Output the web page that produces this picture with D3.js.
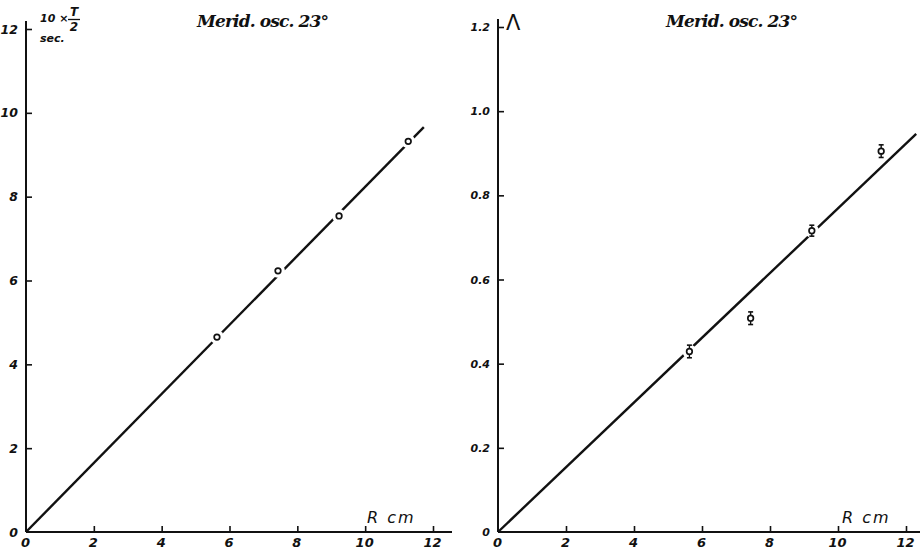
<!DOCTYPE html>
<html>
<head>
<meta charset="utf-8">
<script src="https://cdn.jsdelivr.net/npm/d3@7"></script>
<style>
  body { margin: 0; background: #fff; }
  svg { display: block; }
</style>
</head>
<body>
<svg id="chart" width="922" height="553"></svg>
<script>
// values
const radiusCm = [5.63, 7.43, 9.23, 11.27];
const halfPeriod = [4.65, 6.23, 7.54, 9.32];      // 10 x T/2 sec.
const lambdaValues = [0.429, 0.508, 0.716, 0.905];
const lambdaError = [0.015, 0.015, 0.013, 0.015];
const fitLeft = [[0, 0], [11.73, 9.66]];
const fitRight = [[0, 0], [12.3, 0.946]];
const xTicks = [0, 2, 4, 6, 8, 10, 12];
const yTicksLeft = [0, 2, 4, 6, 8, 10, 12];
const yTicksRight = [0, 0.2, 0.4, 0.6, 0.8, 1.0, 1.2];
const yTickLabelsRight = ["0", "0.2", "0.4", "0.6", "0.8", "1.0", "1.2"];

const svg = d3.select("#chart");
const ink = "#111";

const italic = sel => sel.style("font-family", "'DejaVu Sans', sans-serif")
    .style("font-style", "italic").attr("fill", ink);

const panels = [
    { x0: 26, x12: 433, axisEnd: 452, yTop: 29, yMax: 12, ticks: yTicksLeft, labels: yTicksLeft.map(String),
      values: halfPeriod, errors: null, fit: fitLeft, title: 197, rcm: 367 },
    { x0: 498, x12: 906, axisEnd: 920, yTop: 27, yMax: 1.2, ticks: yTicksRight, labels: yTickLabelsRight,
      values: lambdaValues, errors: lambdaError, fit: fitRight, title: 666, rcm: 842 }
];

const bottom = 532;

panels.forEach((p, i) => {
    const x = d3.scaleLinear().domain([0, 12]).range([p.x0, p.x12]);
    const y = d3.scaleLinear().domain([0, p.yMax]).range([bottom, p.yTop]);
    const g = svg.append("g");

    // axes lines
    g.append("line").attr("x1", p.x0).attr("x2", p.axisEnd).attr("y1", bottom).attr("y2", bottom)
        .attr("stroke", ink).attr("stroke-width", 2);
    g.append("line").attr("x1", p.x0).attr("x2", p.x0).attr("y1", bottom).attr("y2", p.yTop - 8)
        .attr("stroke", ink).attr("stroke-width", 2);

    const xAxis = g.append("g").attr("transform", `translate(0,${bottom})`)
        .call(d3.axisBottom(x).tickValues(xTicks).tickSize(-6).tickSizeOuter(0).tickPadding(6)
            .tickFormat(d => String(d)));
    xAxis.select(".domain").remove();
    xAxis.selectAll("line").attr("stroke", ink).attr("stroke-width", 1.6)
        .attr("display", d => d === 0 ? "none" : null);
    xAxis.selectAll("text").attr("font-size", 13).attr("font-weight", "bold").attr("dx", -1).call(italic);

    const yAxis = g.append("g").attr("transform", `translate(${p.x0},0)`)
        .call(d3.axisLeft(y).tickValues(p.ticks).tickSize(-6).tickSizeOuter(0).tickPadding(8)
            .tickFormat((d, k) => p.labels[k]));
    yAxis.select(".domain").remove();
    yAxis.selectAll("line").attr("stroke", ink).attr("stroke-width", 1.6)
        .attr("display", d => d === 0 ? "none" : null);
    yAxis.selectAll("text").attr("font-size", i === 0 ? 12.5 : 11).attr("font-weight", "bold").call(italic);

    // fit line
    const line = d3.line().x(d => x(d[0])).y(d => y(d[1]));
    g.append("path").attr("d", line(p.fit)).attr("fill", "none")
        .attr("stroke", ink).attr("stroke-width", 2.4);

    // gaps around points
    g.selectAll(".gap").data(radiusCm).join("circle").attr("class", "gap")
        .attr("cx", d => x(d)).attr("cy", (d, k) => y(p.values[k])).attr("r", 7).attr("fill", "#fff");

    if (p.errors) {
        const eb = g.selectAll(".err").data(radiusCm).join("g").attr("class", "err");
        eb.append("line")
            .attr("x1", d => x(d)).attr("x2", d => x(d))
            .attr("y1", (d, k) => y(p.values[k] + p.errors[k])).attr("y2", (d, k) => y(p.values[k] - p.errors[k]))
            .attr("stroke", ink).attr("stroke-width", 1.4);
        [1, -1].forEach(s => {
            eb.append("line")
                .attr("x1", d => x(d) - 2.5).attr("x2", d => x(d) + 2.5)
                .attr("y1", (d, k) => y(p.values[k] + s * p.errors[k])).attr("y2", (d, k) => y(p.values[k] + s * p.errors[k]))
                .attr("stroke", ink).attr("stroke-width", 1.6);
        });
    }

    g.selectAll(".pt").data(radiusCm).join("circle").attr("class", "pt")
        .attr("cx", d => x(d)).attr("cy", (d, k) => y(p.values[k])).attr("r", 2.8)
        .attr("fill", "#fff").attr("stroke", ink).attr("stroke-width", 1.7);

    // title and axis label
    g.append("text").attr("x", p.title).attr("y", 27).attr("font-size", 17).attr("fill", ink)
        .attr("font-weight", "bold")
        .style("font-family", "'DejaVu Serif', serif").style("font-style", "italic")
        .attr("textLength", 132).text("Merid. osc. 23°");
    g.append("text").attr("x", p.rcm).attr("y", 523).attr("font-size", 16)
        .attr("letter-spacing", 2).call(italic).text("R cm");
});

// left y label: 10 x T/2 sec.
const lab = svg.append("g");
lab.append("text").attr("x", 40).attr("y", 22).attr("font-size", 11).attr("font-weight", "bold").call(italic).text("10 ×");
lab.append("text").attr("x", 74).attr("y", 16).attr("font-size", 12).attr("font-weight", "bold")
    .attr("text-anchor", "middle").call(italic).text("T");
lab.append("line").attr("x1", 68).attr("x2", 80).attr("y1", 19.5).attr("y2", 19.5)
    .attr("stroke", ink).attr("stroke-width", 1.3);
lab.append("text").attr("x", 74).attr("y", 31).attr("font-size", 12).attr("font-weight", "bold")
    .attr("text-anchor", "middle").call(italic).text("2");
lab.append("text").attr("x", 40).attr("y", 42).attr("font-size", 11).attr("font-weight", "bold").call(italic).text("sec.");

// right y label
svg.append("text").attr("x", 506).attr("y", 30).attr("font-size", 21).attr("fill", ink)
    .style("font-family", "'DejaVu Sans', sans-serif").style("font-style", "normal")
    .text("Λ");
</script>
</body>
</html>
